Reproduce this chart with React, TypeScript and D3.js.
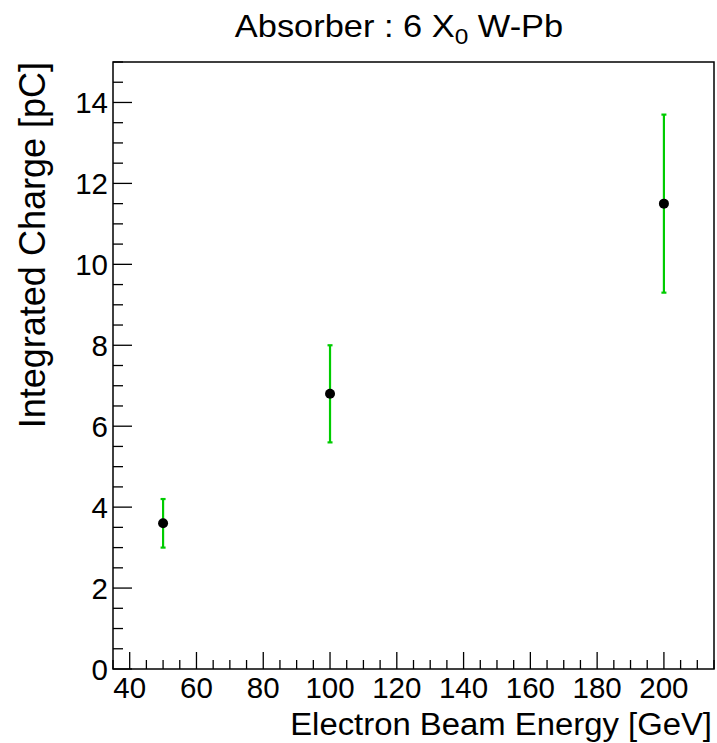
import React from "react";
import * as d3 from "d3";

const energies = [50, 100, 200];
const charges = [3.6, 6.8, 11.5];
const errors = [0.6, 1.2, 2.2];
const xTicks = [40, 60, 80, 100, 120, 140, 160, 180, 200];
const yTicks = [0, 2, 4, 6, 8, 10, 12, 14];

const W = 717, H = 743;
const left = 113, right = 714, top = 62, bottom = 669;
const FONT = "'Liberation Sans', Arial, sans-serif";

export default function App() {
  const x = d3.scaleLinear().domain([35, 215]).range([left, right]);
  const y = d3.scaleLinear().domain([0, 15]).range([bottom, top]);
  const xMinor = d3.range(35, 215.01, 5).filter((v) => v % 20 !== 0);
  const yMinor = d3.range(0, 15.01, 0.5).filter((v) => v % 2 !== 0);
  const fs = 29.5;
  return (
    <svg width={W} height={H} style={{ position: "absolute", left: 0, top: 0, background: "#fff" }}>
      <rect x={0} y={0} width={W} height={H} fill="#fff" />
      <text transform="translate(399,37) scale(1.11,1)" textAnchor="middle" fontFamily={FONT} fontSize={31} fill="#000">
        Absorber : 6 X<tspan fontSize={22} dy={7}>0</tspan>
        <tspan dy={-7}> W-Pb</tspan>
      </text>
      <rect x={left} y={top} width={right - left} height={bottom - top} fill="none" stroke="#000" strokeWidth={1.5} />
      {xTicks.map((v) => (
        <g key={"xt" + v}>
          <line x1={x(v)} x2={x(v)} y1={bottom} y2={bottom - 17} stroke="#000" strokeWidth={1.3} />
          <text x={x(v)} y={698} textAnchor="middle" fontFamily={FONT} fontSize={fs} fill="#000">{v}</text>
        </g>
      ))}
      {xMinor.map((v) => (
        <line key={"xm" + v} x1={x(v)} x2={x(v)} y1={bottom} y2={bottom - 9} stroke="#000" strokeWidth={1.3} />
      ))}
      {yTicks.map((v) => (
        <g key={"yt" + v}>
          <line x1={left} x2={left + 19} y1={y(v)} y2={y(v)} stroke="#000" strokeWidth={1.3} />
          <text x={108} y={y(v) + 10.5} textAnchor="end" fontFamily={FONT} fontSize={fs} fill="#000">{v}</text>
        </g>
      ))}
      {yMinor.map((v) => (
        <line key={"ym" + v} x1={left} x2={left + 10} y1={y(v)} y2={y(v)} stroke="#000" strokeWidth={1.3} />
      ))}
      <text transform="translate(712,735) scale(1.06,1)" textAnchor="end" fontFamily={FONT} fontSize={31} fill="#000">Electron Beam Energy [GeV]</text>
      <text transform={`translate(45,${top}) rotate(-90)`} textAnchor="end" fontFamily={FONT} fontSize={36} fill="#000">Integrated Charge [pC]</text>
      {energies.map((e, i) => (
        <g key={"p" + e}>
          <line x1={x(e)} x2={x(e)} y1={y(charges[i] - errors[i])} y2={y(charges[i] + errors[i])} stroke="#00cc00" strokeWidth={2.2} />
          <line x1={x(e) - 2.5} x2={x(e) + 2.5} y1={y(charges[i] + errors[i])} y2={y(charges[i] + errors[i])} stroke="#00cc00" strokeWidth={2.2} />
          <line x1={x(e) - 2.5} x2={x(e) + 2.5} y1={y(charges[i] - errors[i])} y2={y(charges[i] - errors[i])} stroke="#00cc00" strokeWidth={2.2} />
          <circle cx={x(e)} cy={y(charges[i])} r={5} fill="#000" />
        </g>
      ))}
    </svg>
  );
}
